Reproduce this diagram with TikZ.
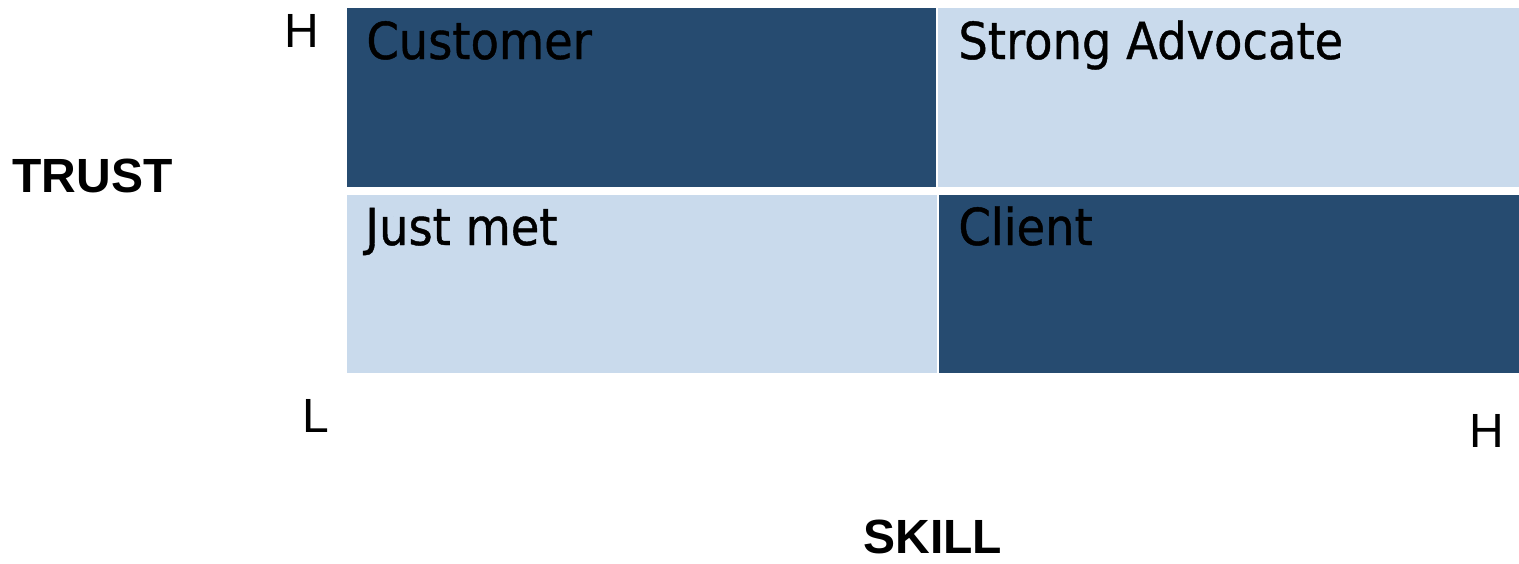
\documentclass[tikz,border=0pt]{standalone}
\usepackage{fontspec}
\setmainfont{Liberation Sans}
\newfontfamily\quadfont[FakeStretch=0.91,FakeBold=0.8]{DejaVu Sans}
\definecolor{quaddark}{RGB}{38,75,112}
\definecolor{quadlight}{RGB}{201,218,236}
\begin{document}
\begin{tikzpicture}[x=0.5pt,y=-0.5pt,
  quad/.style={rectangle,anchor=north west,inner sep=0pt,outer sep=0pt},
  darkquad/.style={quad,fill=quaddark},
  lightquad/.style={quad,fill=quadlight},
  quadtext/.style={anchor=base west,inner sep=0pt,font=\quadfont\fontsize{25.5pt}{30pt}\selectfont,text=black},
  axislabel/.style={anchor=base west,inner sep=0pt,font=\fontsize{24pt}{28pt}\selectfont},
  axistitle/.style={anchor=base west,inner sep=0pt,font=\bfseries\fontsize{24pt}{28pt}\selectfont}]
\useasboundingbox (0,0) rectangle (1519,563);
% the four quadrants
\node[darkquad,minimum width=294.5pt,minimum height=89.5pt] (q1) at (347,8) {};
\node[lightquad,minimum width=290.5pt,minimum height=89.5pt] (q2) at (938,8) {};
\node[lightquad,minimum width=295pt,minimum height=89pt] (q3) at (347,195) {};
\node[darkquad,minimum width=290pt,minimum height=89pt] (q4) at (939,195) {};
% quadrant titles
\node[quadtext] (t1) at ([xshift=9.5pt,yshift=-25.5pt]q1.north west) {Customer};
\node[quadtext] (t2) at ([xshift=10pt,yshift=-25.5pt]q2.north west) {Strong Advocate};
\node[quadtext] (t3) at ([xshift=9pt,yshift=-25pt]q3.north west) {Just met};
\node[quadtext] (t4) at ([xshift=9.5pt,yshift=-25pt]q4.north west) {Client};
% axis marks
\node[axislabel] (hy) at (284,47) {H};
\node[axislabel] (ly) at (302,432) {L};
\node[axislabel] (hx) at (1469,447) {H};
\node[axistitle] (trust) at (12,192) {TRUST};
\node[axistitle] (skill) at (863,553) {SKILL};
\end{tikzpicture}
\end{document}
